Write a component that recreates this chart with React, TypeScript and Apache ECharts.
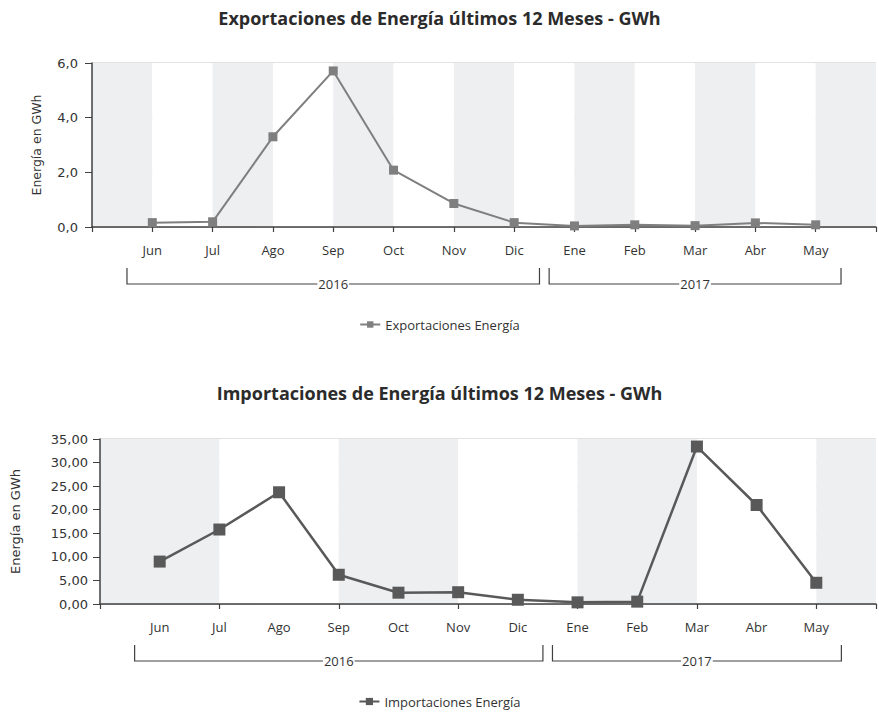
import React, { useEffect, useRef } from 'react';
import * as echarts from 'echarts';

const months = ['Jun', 'Jul', 'Ago', 'Sep', 'Oct', 'Nov', 'Dic', 'Ene', 'Feb', 'Mar', 'Abr', 'May'];
const yearLabels = ['2016', '2017'];
const yearMonthCounts = [7, 5];
const exportValues = [0.16, 0.19, 3.3, 5.71, 2.08, 0.86, 0.16, 0.04, 0.08, 0.05, 0.15, 0.08];
const importValues = [9.0, 15.8, 23.7, 6.2, 2.4, 2.5, 0.9, 0.35, 0.5, 33.4, 21.0, 4.5];
const exportTicks = [0, 2, 4, 6];
const importTicks = [0, 5, 10, 15, 20, 25, 30, 35];
const titles = ['Exportaciones de Energía últimos 12 Meses - GWh', 'Importaciones de Energía últimos 12 Meses - GWh'];
const seriesNames = ['Exportaciones Energía', 'Importaciones Energía'];
const yAxisName = 'Energía en GWh';

const FONT = 'Open Sans';
const categories = ['', ...months, ''];

export default function App() {
  const ref = useRef<HTMLDivElement>(null);
  useEffect(() => {
    document.body.style.margin = '0';
    const chart = echarts.init(ref.current!, null, { renderer: 'svg' });
    const xAxisBase = (gi: number, every: number) => ({
      gridIndex: gi,
      type: 'category',
      data: categories,
      boundaryGap: false,
      axisLine: { lineStyle: { color: '#404040', width: 1.5 } },
      axisTick: { show: true, interval: every, length: 5, lineStyle: { color: '#404040', width: 1.2 } },
      axisLabel: { interval: 0, margin: 16, fontFamily: FONT, fontSize: 13, color: '#333' },
      splitLine: { show: false },
      splitArea: { show: true, interval: every, areaStyle: { color: ['#eeeff1', '#ffffff'] } },
    });
    const yAxisBase = (gi: number, ticks: number[], dec: number, gap: number, margin: number, nameSize: number) => ({
      gridIndex: gi,
      type: 'value',
      min: ticks[0],
      max: ticks[ticks.length - 1],
      interval: ticks[1] - ticks[0],
      name: yAxisName,
      nameLocation: 'middle',
      nameGap: gap,
      nameTextStyle: { fontFamily: 'DejaVu Sans', fontSize: nameSize, color: '#333' },
      axisLine: { show: true, lineStyle: { color: '#404040', width: 1.5 } },
      axisTick: { show: true, length: 7, lineStyle: { color: '#404040' } },
      axisLabel: {
        margin,
        fontFamily: 'DejaVu Sans',
        fontSize: 13,
        color: '#333',
        formatter: (v: number) => v.toFixed(dec).replace('.', ','),
      },
      splitLine: { lineStyle: { color: '#d9d9d9', width: 1.5 } },
    });
    const titleStyle = { fontFamily: FONT, fontWeight: 'bold', fontSize: 18, color: '#2b2b2b' };
    const legendText = { fontFamily: FONT, fontSize: 13, color: '#333' };
    const option: any = {
      animation: false,
      backgroundColor: '#ffffff',
      title: [
        { text: titles[0], left: 'center', top: 4, textStyle: titleStyle },
        { text: titles[1], left: 'center', top: 379, textStyle: titleStyle },
      ],
      legend: [
        { data: [seriesNames[0]], left: 'center', top: 313, itemWidth: 20, itemHeight: 8, textStyle: legendText },
        { data: [seriesNames[1]], left: 'center', top: 690, itemWidth: 20, itemHeight: 9, textStyle: legendText },
      ],
      grid: [
        { left: 92, right: 0, top: 63, height: 164 },
        { left: 100, right: 0, top: 439, height: 165 },
      ],
      xAxis: [xAxisBase(0, 0), xAxisBase(1, 1)],
      yAxis: [yAxisBase(0, exportTicks, 1, 49, 14, 12.5), yAxisBase(1, importTicks, 2, 78, 12, 13)],
      series: [
        {
          name: seriesNames[0],
          type: 'line',
          xAxisIndex: 0,
          yAxisIndex: 0,
          data: [null, ...exportValues, null],
          symbol: 'rect',
          symbolSize: 9,
          lineStyle: { color: '#7f7f7f', width: 2 },
          itemStyle: { color: '#7f7f7f' },
        },
        {
          name: seriesNames[1],
          type: 'line',
          xAxisIndex: 1,
          yAxisIndex: 1,
          data: [null, ...importValues, null],
          symbol: 'rect',
          symbolSize: 12,
          lineStyle: { color: '#595959', width: 2.5 },
          itemStyle: { color: '#595959' },
        },
      ],
    };
    chart.setOption(option);

    const graphics: any[] = [];
    [0, 1].forEach((gi) => {
      const px = (i: number) => chart.convertToPixel({ xAxisIndex: gi } as any, i) as number;
      const yb = chart.convertToPixel({ yAxisIndex: gi } as any, 0) as number;
      const step = px(2) - px(1);
      const y1 = yb + 41;
      const y2 = yb + 57;
      let start = 1;
      yearLabels.forEach((yr, k) => {
        const n = yearMonthCounts[k];
        const x0 = px(start) - 0.42 * step;
        const x1 = px(start + n - 1) + 0.42 * step;
        graphics.push({
          type: 'polyline',
          shape: { points: [[x0, y1], [x0, y2], [x1, y2], [x1, y1]] },
          style: { stroke: '#404040', lineWidth: 1.2, fill: null },
          silent: true,
        });
        graphics.push({
          type: 'text',
          x: (x0 + x1) / 2,
          y: y2,
          style: {
            text: yr,
            align: 'center',
            verticalAlign: 'middle',
            fontFamily: FONT,
            fontSize: 13,
            fill: '#333',
            backgroundColor: '#ffffff',
            padding: [0, 1],
          },
          silent: true,
        });
        start += n;
      });
    });
    chart.setOption({ graphic: graphics });
    return () => chart.dispose();
  }, []);
  return <div ref={ref} style={{ position: 'fixed', left: 0, top: 0, width: 879, height: 712 }} />;
}
